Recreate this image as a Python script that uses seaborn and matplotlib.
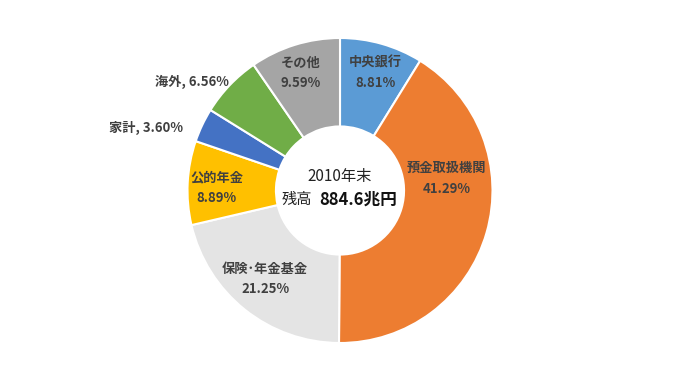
import matplotlib
matplotlib.use("Agg")
import matplotlib.pyplot as plt
import seaborn as sns
import numpy as np

sns.set_theme(style="white")
plt.rcParams['font.family'] = ['Noto Sans CJK JP', 'DejaVu Sans']

categories = ["中央銀行", "預金取扱機関", "保険･年金基金", "公的年金", "家計", "海外", "その他"]
values = [8.81, 41.29, 21.25, 8.89, 3.60, 6.56, 9.59]
colors = ["#5B9BD5", "#ED7D31", "#E4E4E4", "#FFC000", "#4472C4", "#70AD47", "#A5A5A5"]
center_title = "2010年末"
center_label = "残高"
center_value = "884.6兆円"

# label layout (data coords), inside vs outside
label_pos = [(0.23, 0.77), (0.70, 0.08), (-0.49, -0.58), (-0.81, 0.02),
             (-1.03, 0.41), (-0.73, 0.71), (-0.26, 0.77)]
outside = [False, False, False, False, True, True, False]

fig = plt.figure(figsize=(6.8, 3.84), dpi=100)
W, H = 680, 384
cx, cy, R = 340, 190.5, 152.5
ax = fig.add_axes([(cx - R) / W, (H - cy - R) / H, 2 * R / W, 2 * R / H])
ax.pie(values, colors=colors, startangle=90, counterclock=False, radius=1,
       wedgeprops=dict(width=0.58, edgecolor="white", linewidth=1.5))
ax.set_xlim(-1, 1)
ax.set_ylim(-1, 1)
ax.set_aspect("equal")
ax.axis("off")

txtc = "#404040"
for cat, v, (x, y), out in zip(categories, values, label_pos, outside):
    if out:
        ax.text(x, y, f"{cat}, {v:.2f}%", ha="right", va="center", fontsize=9.5,
                fontweight="bold", color=txtc, clip_on=False)
    else:
        ax.text(x, y, f"{cat}\n{v:.2f}%", ha="center", va="center", fontsize=9.5,
                fontweight="bold", color=txtc, linespacing=1.6)

ax.text(0, 0.09, center_title, ha="center", va="center", fontsize=11, color="#222222")
ax.text(-0.28, -0.06, center_label, ha="center", va="center", fontsize=11, color="#222222")
ax.text(0.12, -0.06, center_value, ha="center", va="center", fontsize=12,
        fontweight="bold", color="#111111")

fig.savefig("out.png", dpi=100)
